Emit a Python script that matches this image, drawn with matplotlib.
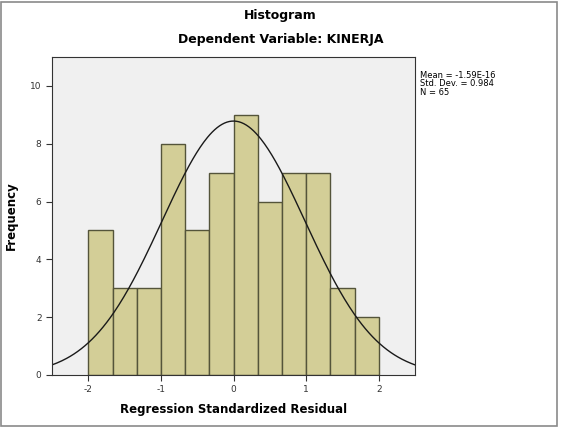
import numpy as np
import matplotlib.pyplot as plt
from matplotlib.patches import Rectangle

plt.rcParams['axes.unicode_minus'] = False

# histogram of regression standardized residuals
bin_edges = np.linspace(-2, 2, 13)
counts = [5, 3, 3, 8, 5, 7, 9, 6, 7, 7, 3, 2]
mean = -1.59e-16
std = 0.984
n = 65
x_ticks = [-2, -1, 0, 1, 2]
y_ticks = [0, 2, 4, 6, 8, 10]

fig = plt.figure(figsize=(5.61, 4.30), dpi=100)
fig.patches.append(Rectangle((0.002, 0.01), 0.99, 0.986, transform=fig.transFigure,
                             fill=False, edgecolor='#8a8a8a', lw=1.2))

ax = fig.add_axes([0.0927, 0.128, 0.6471, 0.7394])
ax.set_facecolor('#f0f0f0')

widths = np.diff(bin_edges)
ax.bar(bin_edges[:-1], counts, width=widths, align='edge',
       color='#d3ce97', edgecolor='#54543a', lw=1.0)

# normal curve scaled to counts
xs = np.linspace(-2.5, 2.5, 300)
bw = widths[0]
ys = n * bw / (std * np.sqrt(2 * np.pi)) * np.exp(-0.5 * ((xs - mean) / std) ** 2)
ax.plot(xs, ys, color='#1a1a1a', lw=1.0)

ax.set_xlim(-2.5, 2.5)
ax.set_ylim(0, 11)
ax.set_xticks(x_ticks)
ax.set_yticks(y_ticks)
ax.tick_params(labelsize=6.5, length=4, color='#333333', labelcolor='#333333')
for s in ax.spines.values():
    s.set_color('#333333')

ax.set_xlabel('Regression Standardized Residual', fontsize=8.5, fontweight='bold', labelpad=6)
ax.set_ylabel('Frequency', fontsize=8.5, fontweight='bold')
ax.yaxis.set_label_coords(-0.095, 0.5)

fig.text(0.5, 0.965, 'Histogram', ha='center', va='center', fontsize=9, fontweight='bold')
fig.text(0.5, 0.907, 'Dependent Variable: KINERJA', ha='center', va='center',
         fontsize=9, fontweight='bold')

fig.text(0.748, 0.835, 'Mean = -1.59E-16\nStd. Dev. = 0.984\nN = 65', ha='left', va='top',
         fontsize=6, linespacing=0.9)

fig.savefig('out.png', dpi=100)
